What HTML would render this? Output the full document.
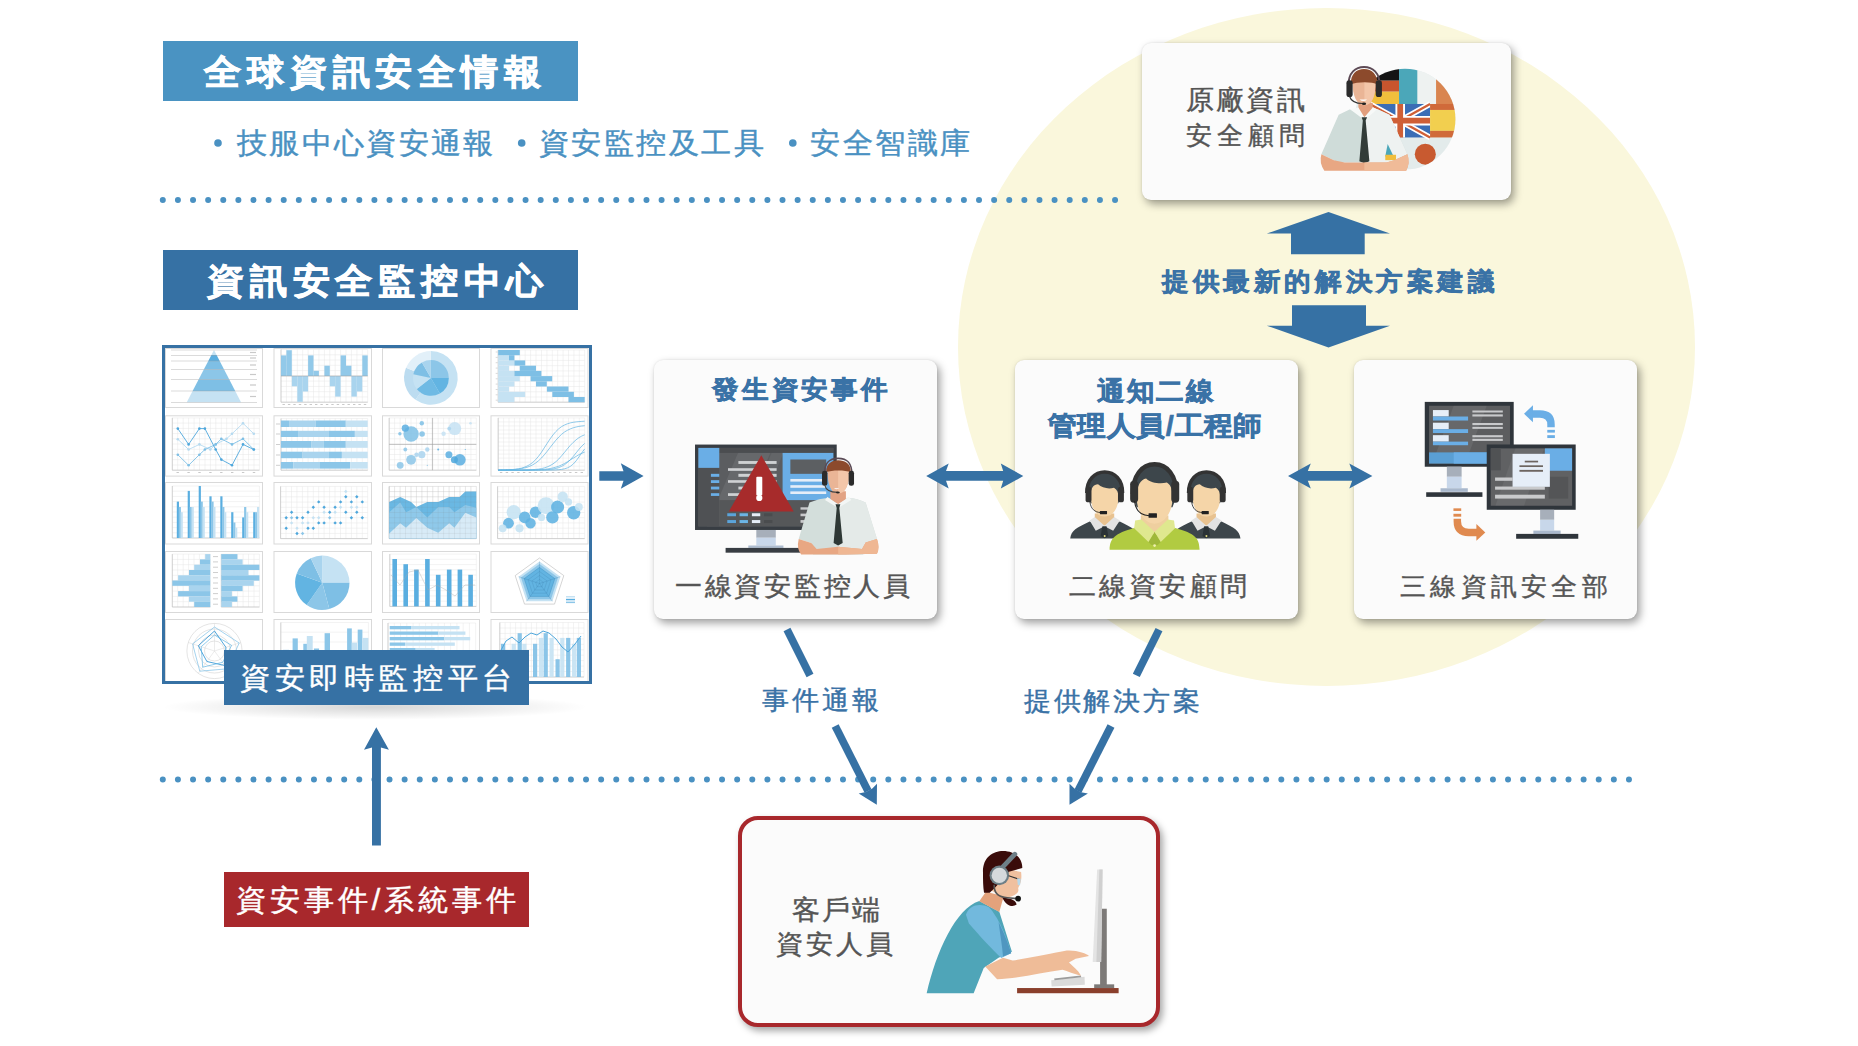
<!DOCTYPE html>
<html lang="zh-Hant"><head><meta charset="utf-8">
<style>
html,body{margin:0;padding:0;background:#fff;}
#root{position:relative;width:1858px;height:1046px;overflow:hidden;background:#fff;font-family:"Liberation Sans",sans-serif;}
.abs{position:absolute;}
.tx{position:absolute;white-space:nowrap;line-height:1;font-family:"Liberation Sans",sans-serif;z-index:5;-webkit-text-stroke:0.4px currentColor;}
.tx[style*="font-weight:700"]{-webkit-text-stroke:0.6px currentColor;}
#t1,#t3{-webkit-text-stroke:0.75px currentColor !important;}
.card{position:absolute;background:#fbfbfb;border-radius:9px;box-shadow:3px 4px 8px rgba(0,0,0,.38),0 0 2px rgba(0,0,0,.10);}
svg{position:absolute;left:0;top:0;overflow:visible;}
</style></head><body><div id="root">
<div class="abs" style="left:958px;top:8px;width:737px;height:677.5px;border-radius:50%;background:#faf7dc;"></div>
<div class="abs" style="left:163px;top:41px;width:415px;height:60px;background:#4a93c2;"></div>
<div class="abs" style="left:163px;top:250px;width:415px;height:60px;background:#3671a4;"></div>
<svg width="1858" height="1046" style="z-index:1">
<line x1="162.8" y1="200" x2="1116" y2="200" stroke="#4a91c2" stroke-width="6" stroke-linecap="round" stroke-dasharray="0 15.115"/>
<line x1="162.8" y1="779.5" x2="1630" y2="779.5" stroke="#4a91c2" stroke-width="6" stroke-linecap="round" stroke-dasharray="0 15.115"/>
<circle cx="218" cy="143" r="3.8" fill="#4a91c2"/>
<circle cx="521.7" cy="143" r="3.8" fill="#4a91c2"/>
<circle cx="792.8" cy="143" r="3.8" fill="#4a91c2"/>
</svg>
<div class="card" style="left:1142px;top:43px;width:369px;height:157px;z-index:2"></div>
<div class="card" style="left:654px;top:360px;width:283px;height:259px;z-index:2"></div>
<div class="card" style="left:1015px;top:360px;width:283px;height:259px;z-index:2"></div>
<div class="card" style="left:1354px;top:360px;width:283px;height:259px;z-index:2"></div>
<div class="abs" style="left:738px;top:816px;width:414px;height:203px;border:4.5px solid #a8282c;border-radius:20px;background:#fbfbfb;box-shadow:3px 4px 7px rgba(0,0,0,.35);z-index:2"></div>
<div class="abs" style="left:160px;top:694px;width:430px;height:26px;border-radius:50%;background:radial-gradient(ellipse at center, rgba(0,0,0,.16), rgba(0,0,0,0) 70%);"></div>
<div class="abs" style="left:162px;top:345px;width:424px;height:333px;border:3px solid #3671a4;background:#fff;z-index:1"></div>
<svg width="1858" height="1046" style="position:absolute;left:0;top:0;z-index:1"><defs><clipPath id="dclip"><rect x="165" y="348" width="424" height="333"/></clipPath></defs><g clip-path="url(#dclip)"><rect x="165.5" y="348.5" width="97.0" height="59.0" fill="#fff" stroke="#d9d9d9" stroke-width="1"/><rect x="274.0" y="348.5" width="97.5" height="59.0" fill="#fff" stroke="#d9d9d9" stroke-width="1"/><rect x="382.5" y="348.5" width="97.0" height="59.0" fill="#fff" stroke="#d9d9d9" stroke-width="1"/><rect x="491.0" y="348.5" width="97.0" height="59.0" fill="#fff" stroke="#d9d9d9" stroke-width="1"/><rect x="165.5" y="415.8" width="97.0" height="60.3" fill="#fff" stroke="#d9d9d9" stroke-width="1"/><rect x="274.0" y="415.8" width="97.5" height="60.3" fill="#fff" stroke="#d9d9d9" stroke-width="1"/><rect x="382.5" y="415.8" width="97.0" height="60.3" fill="#fff" stroke="#d9d9d9" stroke-width="1"/><rect x="491.0" y="415.8" width="97.0" height="60.3" fill="#fff" stroke="#d9d9d9" stroke-width="1"/><rect x="165.5" y="482.5" width="97.0" height="61.5" fill="#fff" stroke="#d9d9d9" stroke-width="1"/><rect x="274.0" y="482.5" width="97.5" height="61.5" fill="#fff" stroke="#d9d9d9" stroke-width="1"/><rect x="382.5" y="482.5" width="97.0" height="61.5" fill="#fff" stroke="#d9d9d9" stroke-width="1"/><rect x="491.0" y="482.5" width="97.0" height="61.5" fill="#fff" stroke="#d9d9d9" stroke-width="1"/><rect x="165.5" y="551.5" width="97.0" height="61.0" fill="#fff" stroke="#d9d9d9" stroke-width="1"/><rect x="274.0" y="551.5" width="97.5" height="61.0" fill="#fff" stroke="#d9d9d9" stroke-width="1"/><rect x="382.5" y="551.5" width="97.0" height="61.0" fill="#fff" stroke="#d9d9d9" stroke-width="1"/><rect x="491.0" y="551.5" width="97.0" height="61.0" fill="#fff" stroke="#d9d9d9" stroke-width="1"/><rect x="165.5" y="619.5" width="97.0" height="70.0" fill="#fff" stroke="#d9d9d9" stroke-width="1"/><rect x="274.0" y="619.5" width="97.5" height="70.0" fill="#fff" stroke="#d9d9d9" stroke-width="1"/><rect x="382.5" y="619.5" width="97.0" height="70.0" fill="#fff" stroke="#d9d9d9" stroke-width="1"/><rect x="491.0" y="619.5" width="97.0" height="70.0" fill="#fff" stroke="#d9d9d9" stroke-width="1"/><polygon points="214.0,350 214.0,350 216.6,355 211.4,355" fill="#c5e2f3"/><polygon points="211.4,355 216.6,355 219.7,361 208.3,361" fill="#5aaee0"/><polygon points="208.3,361 219.7,361 224.1,369.5 203.8,369.5" fill="#7ebfe5"/><polygon points="203.8,369.5 224.1,369.5 229.3,379.5 198.6,379.5" fill="#8cc6e8"/><polygon points="198.6,379.5 229.3,379.5 235.2,391 192.6,391" fill="#7ebfe5"/><polygon points="192.6,391 235.2,391 241.0,402.2 186.8,402.2" fill="#c5e2f3"/><path d="M171,350H257M171,355.5H257M171,361H257M171,369.5H257M171,379.5H257M171,391H257M171,402.5H257" stroke="#9a9a9a" stroke-width="0.45" fill="none" opacity="0.8"/><rect x="250.0" y="351.9" width="6.0" height="1.2" fill="#c9c9c9" /><rect x="250.0" y="357.4" width="6.0" height="1.2" fill="#c9c9c9" /><rect x="250.0" y="364.4" width="6.0" height="1.2" fill="#c9c9c9" /><rect x="250.0" y="373.9" width="6.0" height="1.2" fill="#c9c9c9" /><rect x="250.0" y="384.4" width="6.0" height="1.2" fill="#c9c9c9" /><rect x="250.0" y="395.9" width="6.0" height="1.2" fill="#c9c9c9" /><path d="M281.0,349.5V402.2M286.4,349.5V402.2M291.8,349.5V402.2M297.3,349.5V402.2M302.7,349.5V402.2M308.1,349.5V402.2M313.5,349.5V402.2M318.9,349.5V402.2M324.4,349.5V402.2M329.8,349.5V402.2M335.2,349.5V402.2M340.6,349.5V402.2M346.0,349.5V402.2M351.4,349.5V402.2M356.9,349.5V402.2M362.3,349.5V402.2M367.7,349.5V402.2M281.0,349.5H367.7M281.0,354.8H367.7M281.0,360.0H367.7M281.0,365.3H367.7M281.0,370.6H367.7M281.0,375.9H367.7M281.0,381.1H367.7M281.0,386.4H367.7M281.0,391.7H367.7M281.0,396.9H367.7M281.0,402.2H367.7" stroke="#e6e6e6" stroke-width="0.5" fill="none"/><path d="M281.0,349.5V402.2H367.7" stroke="#b9b9b9" stroke-width="0.6" fill="none"/><rect x="281.0" y="355.4" width="5.4" height="20.6" fill="#8cc6e8" opacity="0.95"/><rect x="286.4" y="350.2" width="5.4" height="25.8" fill="#8cc6e8" opacity="0.95"/><rect x="291.8" y="376.0" width="5.4" height="10.3" fill="#a9d4ee" /><rect x="297.3" y="376.0" width="5.4" height="25.8" fill="#a9d4ee" /><rect x="302.7" y="376.0" width="5.4" height="15.5" fill="#a9d4ee" /><rect x="308.1" y="355.4" width="5.4" height="20.6" fill="#8cc6e8" opacity="0.95"/><rect x="313.5" y="370.8" width="5.4" height="5.2" fill="#8cc6e8" opacity="0.95"/><rect x="324.4" y="365.7" width="5.4" height="10.3" fill="#8cc6e8" opacity="0.95"/><rect x="329.8" y="376.0" width="5.4" height="10.3" fill="#a9d4ee" /><rect x="335.2" y="376.0" width="5.4" height="20.6" fill="#a9d4ee" /><rect x="340.6" y="355.4" width="5.4" height="20.6" fill="#8cc6e8" opacity="0.95"/><rect x="346.0" y="365.7" width="5.4" height="10.3" fill="#8cc6e8" opacity="0.95"/><rect x="351.4" y="376.0" width="5.4" height="20.6" fill="#a9d4ee" /><rect x="356.9" y="376.0" width="5.4" height="15.5" fill="#a9d4ee" /><rect x="362.3" y="355.4" width="5.4" height="20.6" fill="#8cc6e8" opacity="0.95"/><path d="M281,376H367.7" stroke="#999" stroke-width="0.5"/><path d="M282.5,404.5h2.4M287.9,404.5h2.4M293.3,404.5h2.4M298.8,404.5h2.4M304.2,404.5h2.4M309.6,404.5h2.4M315.0,404.5h2.4M320.4,404.5h2.4M325.9,404.5h2.4M331.3,404.5h2.4M336.7,404.5h2.4M342.1,404.5h2.4M347.5,404.5h2.4M353.0,404.5h2.4M358.4,404.5h2.4M363.8,404.5h2.4" stroke="#bbb" stroke-width="0.8"/><path d="M430.9,377.9L430.90,351.10A26.8,26.8 0 1 1 415.53,399.85Z" fill="#c5e2f3"/><path d="M430.9,377.9L415.53,399.85A26.8,26.8 0 0 1 406.05,367.86Z" fill="#bcdcf0"/><path d="M430.9,377.9L406.05,367.86A26.8,26.8 0 0 1 430.90,351.10Z" fill="#e2f0f9"/><path d="M430.9,377.9L430.90,360.00A17.9,17.9 0 0 1 448.80,377.90Z" fill="#8cc6e8"/><path d="M430.9,377.9L448.80,377.90A17.9,17.9 0 0 1 439.85,393.40Z" fill="#62b4e2"/><path d="M430.9,377.9L439.85,393.40A17.9,17.9 0 0 1 416.79,388.92Z" fill="#6fbae4"/><path d="M430.9,377.9L416.79,388.92A17.9,17.9 0 0 1 413.39,374.18Z" fill="#c5e2f3"/><path d="M430.9,377.9L413.39,374.18A17.9,17.9 0 0 1 421.95,362.40Z" fill="#7ebfe5"/><path d="M430.9,377.9L421.95,362.40A17.9,17.9 0 0 1 430.90,360.00Z" fill="#a9d4ee"/><path d="M498.2,350.0V402.2M503.6,350.0V402.2M509.0,350.0V402.2M514.4,350.0V402.2M519.8,350.0V402.2M525.2,350.0V402.2M530.6,350.0V402.2M536.0,350.0V402.2M541.5,350.0V402.2M546.9,350.0V402.2M552.3,350.0V402.2M557.7,350.0V402.2M563.1,350.0V402.2M568.5,350.0V402.2M573.9,350.0V402.2M579.3,350.0V402.2M584.7,350.0V402.2M498.2,350.0H584.7M498.2,355.2H584.7M498.2,360.4H584.7M498.2,365.7H584.7M498.2,370.9H584.7M498.2,376.1H584.7M498.2,381.3H584.7M498.2,386.5H584.7M498.2,391.8H584.7M498.2,397.0H584.7M498.2,402.2H584.7" stroke="#e6e6e6" stroke-width="0.5" fill="none"/><path d="M498.2,350.0V402.2H584.7" stroke="#b9b9b9" stroke-width="0.6" fill="none"/><rect x="498.2" y="355.2" width="10.8" height="5.2" fill="#c5e2f3" /><rect x="498.2" y="360.4" width="16.2" height="5.2" fill="#c5e2f3" /><rect x="498.2" y="365.7" width="10.8" height="5.2" fill="#c5e2f3" /><rect x="498.2" y="370.9" width="16.2" height="5.2" fill="#c5e2f3" /><rect x="498.2" y="376.1" width="21.6" height="5.2" fill="#c5e2f3" /><rect x="498.2" y="381.3" width="16.2" height="5.2" fill="#c5e2f3" /><rect x="498.2" y="386.5" width="10.8" height="5.2" fill="#c5e2f3" /><rect x="498.2" y="391.8" width="27.0" height="5.2" fill="#c5e2f3" /><rect x="498.2" y="397.0" width="16.2" height="5.2" fill="#c5e2f3" /><rect x="498.2" y="350.0" width="21.6" height="5.2" fill="#7ebfe5" /><rect x="509.0" y="355.2" width="5.4" height="5.2" fill="#7ebfe5" /><rect x="514.4" y="360.4" width="10.8" height="5.2" fill="#7ebfe5" /><rect x="519.8" y="365.7" width="16.2" height="5.2" fill="#7ebfe5" /><rect x="514.4" y="370.9" width="27.0" height="5.2" fill="#7ebfe5" /><rect x="530.6" y="376.1" width="21.6" height="5.2" fill="#7ebfe5" /><rect x="536.0" y="381.3" width="10.8" height="5.2" fill="#7ebfe5" /><rect x="546.9" y="386.5" width="21.6" height="5.2" fill="#7ebfe5" /><rect x="552.3" y="391.8" width="21.6" height="5.2" fill="#7ebfe5" /><rect x="568.5" y="397.0" width="16.2" height="5.2" fill="#7ebfe5" /><path d="M495.7,352.0h2M495.7,357.4h2M495.7,362.7h2M495.7,368.1h2M495.7,373.4h2M495.7,378.8h2M495.7,384.1h2M495.7,389.5h2M495.7,394.8h2M495.7,400.2h2" stroke="#c8c8c8" stroke-width="0.7"/><path d="M172.3,417.9V470.2M177.7,417.9V470.2M183.2,417.9V470.2M188.6,417.9V470.2M194.1,417.9V470.2M199.5,417.9V470.2M205.0,417.9V470.2M210.4,417.9V470.2M215.8,417.9V470.2M221.3,417.9V470.2M226.7,417.9V470.2M232.2,417.9V470.2M237.6,417.9V470.2M243.1,417.9V470.2M248.5,417.9V470.2M254.0,417.9V470.2M259.4,417.9V470.2M172.3,417.9H259.4M172.3,423.1H259.4M172.3,428.4H259.4M172.3,433.6H259.4M172.3,438.8H259.4M172.3,444.0H259.4M172.3,449.3H259.4M172.3,454.5H259.4M172.3,459.7H259.4M172.3,465.0H259.4M172.3,470.2H259.4" stroke="#e6e6e6" stroke-width="0.5" fill="none"/><path d="M172.3,417.9V470.2H259.4" stroke="#b9b9b9" stroke-width="0.6" fill="none"/><polyline points="177.8,439.2 188.6,449.5 199.4,444.4 210.3,449.5 215.7,444.4 226.5,438.8 232.0,433.8 243.0,423.3 253.8,433.8" fill="none" stroke="#b5daf0" stroke-width="0.9"/><circle cx="177.8" cy="439.2" r="1.3" fill="#b5daf0"/><circle cx="188.6" cy="449.5" r="1.3" fill="#b5daf0"/><circle cx="199.4" cy="444.4" r="1.3" fill="#b5daf0"/><circle cx="210.3" cy="449.5" r="1.3" fill="#b5daf0"/><circle cx="215.7" cy="444.4" r="1.3" fill="#b5daf0"/><circle cx="226.5" cy="438.8" r="1.3" fill="#b5daf0"/><circle cx="232.0" cy="433.8" r="1.3" fill="#b5daf0"/><circle cx="243.0" cy="423.3" r="1.3" fill="#b5daf0"/><circle cx="253.8" cy="433.8" r="1.3" fill="#b5daf0"/><polyline points="177.8,454.7 188.6,465.3 199.4,454.7 204.9,449.5 215.7,444.4 221.3,438.8 232.0,444.4 243.0,438.8 253.8,449.5" fill="none" stroke="#7ebfe5" stroke-width="0.9"/><circle cx="177.8" cy="454.7" r="1.3" fill="#7ebfe5"/><circle cx="188.6" cy="465.3" r="1.3" fill="#7ebfe5"/><circle cx="199.4" cy="454.7" r="1.3" fill="#7ebfe5"/><circle cx="204.9" cy="449.5" r="1.3" fill="#7ebfe5"/><circle cx="215.7" cy="444.4" r="1.3" fill="#7ebfe5"/><circle cx="221.3" cy="438.8" r="1.3" fill="#7ebfe5"/><circle cx="232.0" cy="444.4" r="1.3" fill="#7ebfe5"/><circle cx="243.0" cy="438.8" r="1.3" fill="#7ebfe5"/><circle cx="253.8" cy="449.5" r="1.3" fill="#7ebfe5"/><polyline points="177.8,428.6 188.6,444.4 199.4,428.6 204.9,428.6 215.7,449.5 221.3,459.6 232.0,465.3 243.0,444.4 253.8,449.5" fill="none" stroke="#4ea7dc" stroke-width="0.9"/><circle cx="177.8" cy="428.6" r="1.3" fill="#4ea7dc"/><circle cx="188.6" cy="444.4" r="1.3" fill="#4ea7dc"/><circle cx="199.4" cy="428.6" r="1.3" fill="#4ea7dc"/><circle cx="204.9" cy="428.6" r="1.3" fill="#4ea7dc"/><circle cx="215.7" cy="449.5" r="1.3" fill="#4ea7dc"/><circle cx="221.3" cy="459.6" r="1.3" fill="#4ea7dc"/><circle cx="232.0" cy="465.3" r="1.3" fill="#4ea7dc"/><circle cx="243.0" cy="444.4" r="1.3" fill="#4ea7dc"/><circle cx="253.8" cy="449.5" r="1.3" fill="#4ea7dc"/><path d="M176.5,472.5h2.4M187.4,472.5h2.4M198.3,472.5h2.4M209.2,472.5h2.4M220.1,472.5h2.4M231.0,472.5h2.4M241.9,472.5h2.4M252.8,472.5h2.4" stroke="#bbb" stroke-width="0.8"/><path d="M281.0,418.5V470.2M286.4,418.5V470.2M291.8,418.5V470.2M297.3,418.5V470.2M302.7,418.5V470.2M308.1,418.5V470.2M313.5,418.5V470.2M318.9,418.5V470.2M324.4,418.5V470.2M329.8,418.5V470.2M335.2,418.5V470.2M340.6,418.5V470.2M346.0,418.5V470.2M351.4,418.5V470.2M356.9,418.5V470.2M362.3,418.5V470.2M367.7,418.5V470.2M281.0,418.5H367.7M281.0,470.2H367.7" stroke="#e6e6e6" stroke-width="0.5" fill="none"/><path d="M281.0,418.5V470.2H367.7" stroke="#b9b9b9" stroke-width="0.6" fill="none"/><rect x="280.9" y="420.5" width="8.8" height="6.5" fill="#8cc6e8" /><rect x="289.7" y="420.5" width="25.8" height="6.5" fill="#a9d4ee" /><rect x="315.5" y="420.5" width="30.3" height="6.5" fill="#8cc6e8" /><rect x="345.8" y="420.5" width="21.9" height="6.5" fill="#c5e2f3" /><rect x="280.9" y="430.8" width="17.8" height="6.2" fill="#8cc6e8" /><rect x="298.7" y="430.8" width="29.7" height="6.2" fill="#a9d4ee" /><rect x="328.4" y="430.8" width="26.5" height="6.2" fill="#8cc6e8" /><rect x="354.8" y="430.8" width="12.9" height="6.2" fill="#c5e2f3" /><rect x="280.9" y="441.0" width="30.7" height="6.8" fill="#8cc6e8" /><rect x="311.6" y="441.0" width="12.3" height="6.8" fill="#a9d4ee" /><rect x="323.9" y="441.0" width="21.9" height="6.8" fill="#8cc6e8" /><rect x="345.8" y="441.0" width="21.9" height="6.8" fill="#c5e2f3" /><rect x="280.9" y="451.7" width="21.7" height="6.5" fill="#8cc6e8" /><rect x="302.6" y="451.7" width="25.8" height="6.5" fill="#a9d4ee" /><rect x="328.4" y="451.7" width="13.5" height="6.5" fill="#8cc6e8" /><rect x="341.9" y="451.7" width="25.8" height="6.5" fill="#c5e2f3" /><rect x="280.9" y="462.0" width="12.6" height="6.6" fill="#8cc6e8" /><rect x="293.5" y="462.0" width="26.5" height="6.6" fill="#a9d4ee" /><rect x="320.0" y="462.0" width="30.3" height="6.6" fill="#8cc6e8" /><rect x="350.3" y="462.0" width="17.4" height="6.6" fill="#c5e2f3" /><rect x="276.0" y="423.5" width="4.0" height="1.0" fill="#cfcfcf" /><rect x="276.0" y="433.5" width="4.0" height="1.0" fill="#cfcfcf" /><rect x="276.0" y="444.0" width="4.0" height="1.0" fill="#cfcfcf" /><rect x="276.0" y="454.5" width="4.0" height="1.0" fill="#cfcfcf" /><rect x="276.0" y="464.8" width="4.0" height="1.0" fill="#cfcfcf" /><path d="M389.2,417.9V470.2M394.6,417.9V470.2M400.1,417.9V470.2M405.5,417.9V470.2M411.0,417.9V470.2M416.4,417.9V470.2M421.9,417.9V470.2M427.3,417.9V470.2M432.8,417.9V470.2M438.2,417.9V470.2M443.6,417.9V470.2M449.1,417.9V470.2M454.5,417.9V470.2M460.0,417.9V470.2M465.4,417.9V470.2M470.9,417.9V470.2M476.3,417.9V470.2M389.2,417.9H476.3M389.2,423.1H476.3M389.2,428.4H476.3M389.2,433.6H476.3M389.2,438.8H476.3M389.2,444.0H476.3M389.2,449.3H476.3M389.2,454.5H476.3M389.2,459.7H476.3M389.2,465.0H476.3M389.2,470.2H476.3" stroke="#e6e6e6" stroke-width="0.5" fill="none"/><path d="M389.2,417.9V470.2H476.3" stroke="#b9b9b9" stroke-width="0.6" fill="none"/><path d="M432.4,417.9V470.2M389.2,444.4H476.3" stroke="#9c9c9c" stroke-width="0.6"/><circle cx="411.1" cy="434.0" r="7.7" fill="#7ebfe5" opacity="0.85"/><circle cx="405.3" cy="428.2" r="3.6" fill="#5aaee0" opacity="0.85"/><circle cx="399.9" cy="433.8" r="1.7" fill="#7ebfe5" opacity="0.85"/><circle cx="421.8" cy="423.3" r="2.2" fill="#7ebfe5" opacity="0.85"/><circle cx="422.1" cy="434.0" r="2.8" fill="#7ebfe5" opacity="0.85"/><circle cx="454.7" cy="428.6" r="6.5" fill="#c5e2f3" opacity="0.85"/><circle cx="449.2" cy="428.6" r="1.9" fill="#a9d4ee" opacity="0.85"/><circle cx="443.6" cy="433.8" r="2.2" fill="#c5e2f3" opacity="0.85"/><circle cx="470.5" cy="423.3" r="1.3" fill="#c5e2f3" opacity="0.85"/><circle cx="405.3" cy="449.5" r="1.9" fill="#8cc6e8" opacity="0.85"/><circle cx="427.3" cy="449.5" r="2.2" fill="#a9d4ee" opacity="0.85"/><circle cx="421.8" cy="454.7" r="3.6" fill="#a9d4ee" opacity="0.85"/><circle cx="416.5" cy="454.7" r="2.2" fill="#a9d4ee" opacity="0.85"/><circle cx="411.1" cy="459.8" r="4.9" fill="#8cc6e8" opacity="0.85"/><circle cx="400.2" cy="465.3" r="3.4" fill="#8cc6e8" opacity="0.85"/><circle cx="438.2" cy="449.5" r="1.0" fill="#5aaee0" opacity="0.85"/><circle cx="465.3" cy="449.5" r="0.6" fill="#5aaee0" opacity="0.85"/><circle cx="448.9" cy="454.7" r="3.5" fill="#5aaee0" opacity="0.85"/><circle cx="459.9" cy="459.8" r="5.8" fill="#5aaee0" opacity="0.85"/><circle cx="454.4" cy="459.8" r="3.5" fill="#4ea7dc" opacity="0.85"/><circle cx="427.3" cy="465.3" r="0.6" fill="#7ebfe5" opacity="0.85"/><path d="M498.2,417.9V470.2M503.6,417.9V470.2M509.0,417.9V470.2M514.4,417.9V470.2M519.8,417.9V470.2M525.2,417.9V470.2M530.6,417.9V470.2M536.0,417.9V470.2M541.5,417.9V470.2M546.9,417.9V470.2M552.3,417.9V470.2M557.7,417.9V470.2M563.1,417.9V470.2M568.5,417.9V470.2M573.9,417.9V470.2M579.3,417.9V470.2M584.7,417.9V470.2M498.2,417.9H584.7M498.2,421.9H584.7M498.2,425.9H584.7M498.2,430.0H584.7M498.2,434.0H584.7M498.2,438.0H584.7M498.2,442.0H584.7M498.2,446.1H584.7M498.2,450.1H584.7M498.2,454.1H584.7M498.2,458.1H584.7M498.2,462.2H584.7M498.2,466.2H584.7M498.2,470.2H584.7" stroke="#e6e6e6" stroke-width="0.5" fill="none"/><path d="M498.2,417.9V470.2H584.7" stroke="#b9b9b9" stroke-width="0.6" fill="none"/><polyline points="498.2,470.1 501.1,470.0 504.0,470.0 506.9,469.9 509.7,469.7 512.6,469.5 515.5,469.2 518.4,468.8 521.3,468.2 524.1,467.3 527.0,466.1 529.9,464.5 532.8,462.4 535.7,459.6 538.6,456.2 541.5,452.2 544.3,447.8 547.2,443.3 550.1,438.9 553.0,434.9 555.9,431.5 558.8,428.7 561.6,426.6 564.5,425.0 567.4,423.8 570.3,422.9 573.2,422.3 576.1,421.9 578.9,421.6 581.8,421.4 584.7,421.2" fill="none" stroke="#62b4e2" stroke-width="0.7"/><polyline points="498.2,470.1 501.1,470.0 504.0,470.0 506.9,469.9 509.7,469.8 512.6,469.6 515.5,469.4 518.4,469.1 521.3,468.6 524.1,468.0 527.0,467.3 529.9,466.2 532.8,464.8 535.7,463.0 538.6,460.7 541.5,458.0 544.3,454.8 547.2,451.3 550.1,447.5 553.0,443.8 555.9,440.2 558.8,437.0 561.6,434.3 564.5,432.0 567.4,430.3 570.3,428.9 573.2,427.8 576.1,427.0 578.9,426.4 581.8,426.0 584.7,425.7" fill="none" stroke="#62b4e2" stroke-width="0.7"/><polyline points="498.2,470.2 501.1,470.2 504.0,470.2 506.9,470.2 509.7,470.2 512.6,470.2 515.5,470.1 518.4,470.1 521.3,470.1 524.1,470.0 527.0,469.9 529.9,469.8 532.8,469.6 535.7,469.4 538.6,469.1 541.5,468.6 544.3,467.9 547.2,466.9 550.1,465.6 553.0,463.9 555.9,461.7 558.8,459.0 561.6,455.8 564.5,452.4 567.4,448.8 570.3,445.4 573.2,442.4 576.1,439.8 578.9,437.7 581.8,436.0 584.7,434.8" fill="none" stroke="#62b4e2" stroke-width="0.7"/><polyline points="498.2,470.2 501.1,470.2 504.0,470.2 506.9,470.2 509.7,470.2 512.6,470.2 515.5,470.2 518.4,470.2 521.3,470.2 524.1,470.2 527.0,470.2 529.9,470.2 532.8,470.1 535.7,470.1 538.6,470.0 541.5,470.0 544.3,469.9 547.2,469.7 550.1,469.4 553.0,469.0 555.9,468.4 558.8,467.6 561.6,466.4 564.5,464.7 567.4,462.5 570.3,459.7 573.2,456.5 576.1,452.9 578.9,449.4 581.8,446.1 584.7,443.4" fill="none" stroke="#62b4e2" stroke-width="0.7"/><polyline points="498.2,470.2 501.1,470.2 504.0,470.2 506.9,470.2 509.7,470.2 512.6,470.2 515.5,470.2 518.4,470.2 521.3,470.2 524.1,470.2 527.0,470.2 529.9,470.2 532.8,470.2 535.7,470.2 538.6,470.2 541.5,470.2 544.3,470.2 547.2,470.1 550.1,470.1 553.0,470.0 555.9,469.9 558.8,469.7 561.6,469.4 564.5,468.8 567.4,467.9 570.3,466.4 573.2,464.1 576.1,460.9 578.9,457.0 581.8,452.8 584.7,448.9" fill="none" stroke="#62b4e2" stroke-width="0.7"/><polyline points="498.2,470.2 501.1,470.2 504.0,470.2 506.9,470.2 509.7,470.2 512.6,470.2 515.5,470.2 518.4,470.2 521.3,470.1 524.1,470.1 527.0,470.1 529.9,470.0 532.8,470.0 535.7,469.9 538.6,469.7 541.5,469.5 544.3,469.3 547.2,469.0 550.1,468.5 553.0,467.9 555.9,467.1 558.8,466.2 561.6,464.9 564.5,463.5 567.4,461.8 570.3,460.0 573.2,458.2 576.1,456.4 578.9,454.7 581.8,453.3 584.7,452.1" fill="none" stroke="#62b4e2" stroke-width="0.7"/><path d="M499.9,472.5h2.4M505.7,472.5h2.4M511.4,472.5h2.4M517.2,472.5h2.4M522.9,472.5h2.4M528.7,472.5h2.4M534.5,472.5h2.4M540.2,472.5h2.4M546.0,472.5h2.4M551.8,472.5h2.4M557.5,472.5h2.4M563.3,472.5h2.4M569.1,472.5h2.4M574.9,472.5h2.4M580.6,472.5h2.4" stroke="#bbb" stroke-width="0.8"/><path d="M172.3,486.0V538.0M259.4,486.0V538.0M172.3,486.0H259.4M172.3,491.2H259.4M172.3,496.4H259.4M172.3,501.6H259.4M172.3,506.8H259.4M172.3,512.0H259.4M172.3,517.2H259.4M172.3,522.4H259.4M172.3,527.6H259.4M172.3,532.8H259.4M172.3,538.0H259.4" stroke="#e6e6e6" stroke-width="0.5" fill="none"/><path d="M172.3,486.0V538.0H259.4" stroke="#b9b9b9" stroke-width="0.6" fill="none"/><rect x="176.8" y="501.6" width="2.2" height="36.4" fill="#5aaee0" /><rect x="178.7" y="507.0" width="2.2" height="31.0" fill="#8cc6e8" /><rect x="180.6" y="512.2" width="2.2" height="25.8" fill="#c5e2f3" /><rect x="187.7" y="490.9" width="2.2" height="47.1" fill="#5aaee0" /><rect x="189.7" y="507.0" width="2.2" height="31.0" fill="#8cc6e8" /><rect x="191.6" y="507.0" width="2.2" height="31.0" fill="#c5e2f3" /><rect x="198.7" y="486.0" width="2.2" height="52.0" fill="#5aaee0" /><rect x="200.6" y="501.6" width="2.2" height="36.4" fill="#8cc6e8" /><rect x="202.6" y="507.0" width="2.2" height="31.0" fill="#c5e2f3" /><rect x="209.4" y="496.3" width="2.2" height="41.7" fill="#5aaee0" /><rect x="211.4" y="501.6" width="2.2" height="36.4" fill="#8cc6e8" /><rect x="213.3" y="507.0" width="2.2" height="31.0" fill="#c5e2f3" /><rect x="220.3" y="496.3" width="2.2" height="41.7" fill="#5aaee0" /><rect x="222.2" y="507.0" width="2.2" height="31.0" fill="#8cc6e8" /><rect x="224.1" y="512.2" width="2.2" height="25.8" fill="#c5e2f3" /><rect x="231.2" y="512.2" width="2.2" height="25.8" fill="#5aaee0" /><rect x="233.2" y="522.5" width="2.2" height="15.5" fill="#8cc6e8" /><rect x="235.1" y="527.7" width="2.2" height="10.3" fill="#c5e2f3" /><rect x="242.2" y="517.4" width="2.2" height="20.6" fill="#5aaee0" /><rect x="244.1" y="507.0" width="2.2" height="31.0" fill="#8cc6e8" /><rect x="246.1" y="512.2" width="2.2" height="25.8" fill="#c5e2f3" /><rect x="253.2" y="512.2" width="2.2" height="25.8" fill="#5aaee0" /><rect x="255.1" y="512.2" width="2.2" height="25.8" fill="#8cc6e8" /><rect x="257.0" y="507.0" width="2.2" height="31.0" fill="#c5e2f3" /><path d="M280.6,486.4V538.6M286.0,486.4V538.6M291.5,486.4V538.6M296.9,486.4V538.6M302.4,486.4V538.6M307.8,486.4V538.6M313.3,486.4V538.6M318.7,486.4V538.6M324.1,486.4V538.6M329.6,486.4V538.6M335.0,486.4V538.6M340.5,486.4V538.6M345.9,486.4V538.6M351.4,486.4V538.6M356.8,486.4V538.6M362.3,486.4V538.6M367.7,486.4V538.6M280.6,486.4H367.7M280.6,491.6H367.7M280.6,496.8H367.7M280.6,502.1H367.7M280.6,507.3H367.7M280.6,512.5H367.7M280.6,517.7H367.7M280.6,522.9H367.7M280.6,528.2H367.7M280.6,533.4H367.7M280.6,538.6H367.7" stroke="#e6e6e6" stroke-width="0.5" fill="none"/><path d="M280.6,486.4V538.6H367.7" stroke="#b9b9b9" stroke-width="0.6" fill="none"/><path d="M286.2,516.0l1.7,1.7l-1.7,1.7l-1.7,-1.7z" fill="#4ea7dc"/><path d="M286.2,526.6l1.7,1.7l-1.7,1.7l-1.7,-1.7z" fill="#4ea7dc"/><path d="M291.6,510.5l1.7,1.7l-1.7,1.7l-1.7,-1.7z" fill="#4ea7dc"/><path d="M291.6,516.0l1.7,1.7l-1.7,1.7l-1.7,-1.7z" fill="#8cc6e8"/><path d="M291.6,521.2l1.7,1.7l-1.7,1.7l-1.7,-1.7z" fill="#c5e2f3"/><path d="M297.0,516.0l1.7,1.7l-1.7,1.7l-1.7,-1.7z" fill="#4ea7dc"/><path d="M297.0,526.6l1.7,1.7l-1.7,1.7l-1.7,-1.7z" fill="#c5e2f3"/><path d="M297.0,531.8l1.7,1.7l-1.7,1.7l-1.7,-1.7z" fill="#4ea7dc"/><path d="M302.6,516.0l1.7,1.7l-1.7,1.7l-1.7,-1.7z" fill="#4ea7dc"/><path d="M302.6,521.2l1.7,1.7l-1.7,1.7l-1.7,-1.7z" fill="#c5e2f3"/><path d="M302.6,531.8l1.7,1.7l-1.7,1.7l-1.7,-1.7z" fill="#8cc6e8"/><path d="M308.0,510.5l1.7,1.7l-1.7,1.7l-1.7,-1.7z" fill="#4ea7dc"/><path d="M308.0,521.2l1.7,1.7l-1.7,1.7l-1.7,-1.7z" fill="#c5e2f3"/><path d="M308.0,526.6l1.7,1.7l-1.7,1.7l-1.7,-1.7z" fill="#4ea7dc"/><path d="M313.3,505.6l1.7,1.7l-1.7,1.7l-1.7,-1.7z" fill="#4ea7dc"/><path d="M313.3,516.0l1.7,1.7l-1.7,1.7l-1.7,-1.7z" fill="#c5e2f3"/><path d="M313.3,526.6l1.7,1.7l-1.7,1.7l-1.7,-1.7z" fill="#4ea7dc"/><path d="M318.7,500.2l1.7,1.7l-1.7,1.7l-1.7,-1.7z" fill="#4ea7dc"/><path d="M318.7,516.0l1.7,1.7l-1.7,1.7l-1.7,-1.7z" fill="#c5e2f3"/><path d="M318.7,521.2l1.7,1.7l-1.7,1.7l-1.7,-1.7z" fill="#4ea7dc"/><path d="M324.1,505.6l1.7,1.7l-1.7,1.7l-1.7,-1.7z" fill="#4ea7dc"/><path d="M324.1,510.5l1.7,1.7l-1.7,1.7l-1.7,-1.7z" fill="#c5e2f3"/><path d="M324.1,521.2l1.7,1.7l-1.7,1.7l-1.7,-1.7z" fill="#4ea7dc"/><path d="M329.7,510.5l1.7,1.7l-1.7,1.7l-1.7,-1.7z" fill="#4ea7dc"/><path d="M329.7,516.0l1.7,1.7l-1.7,1.7l-1.7,-1.7z" fill="#8cc6e8"/><path d="M335.1,505.6l1.7,1.7l-1.7,1.7l-1.7,-1.7z" fill="#4ea7dc"/><path d="M335.1,510.5l1.7,1.7l-1.7,1.7l-1.7,-1.7z" fill="#c5e2f3"/><path d="M335.1,521.2l1.7,1.7l-1.7,1.7l-1.7,-1.7z" fill="#4ea7dc"/><path d="M340.6,500.2l1.7,1.7l-1.7,1.7l-1.7,-1.7z" fill="#4ea7dc"/><path d="M340.6,505.6l1.7,1.7l-1.7,1.7l-1.7,-1.7z" fill="#c5e2f3"/><path d="M340.6,521.2l1.7,1.7l-1.7,1.7l-1.7,-1.7z" fill="#4ea7dc"/><path d="M345.8,489.8l1.7,1.7l-1.7,1.7l-1.7,-1.7z" fill="#c5e2f3"/><path d="M345.8,495.0l1.7,1.7l-1.7,1.7l-1.7,-1.7z" fill="#4ea7dc"/><path d="M345.8,510.5l1.7,1.7l-1.7,1.7l-1.7,-1.7z" fill="#4ea7dc"/><path d="M351.4,500.2l1.7,1.7l-1.7,1.7l-1.7,-1.7z" fill="#4ea7dc"/><path d="M351.4,505.6l1.7,1.7l-1.7,1.7l-1.7,-1.7z" fill="#c5e2f3"/><path d="M351.4,516.0l1.7,1.7l-1.7,1.7l-1.7,-1.7z" fill="#4ea7dc"/><path d="M356.8,495.0l1.7,1.7l-1.7,1.7l-1.7,-1.7z" fill="#4ea7dc"/><path d="M356.8,505.6l1.7,1.7l-1.7,1.7l-1.7,-1.7z" fill="#c5e2f3"/><path d="M356.8,510.5l1.7,1.7l-1.7,1.7l-1.7,-1.7z" fill="#4ea7dc"/><path d="M362.3,500.2l1.7,1.7l-1.7,1.7l-1.7,-1.7z" fill="#4ea7dc"/><path d="M362.3,516.0l1.7,1.7l-1.7,1.7l-1.7,-1.7z" fill="#4ea7dc"/><path d="M389.2,486.4V538.6M394.6,486.4V538.6M400.1,486.4V538.6M405.5,486.4V538.6M411.0,486.4V538.6M416.4,486.4V538.6M421.9,486.4V538.6M427.3,486.4V538.6M432.8,486.4V538.6M438.2,486.4V538.6M443.6,486.4V538.6M449.1,486.4V538.6M454.5,486.4V538.6M460.0,486.4V538.6M465.4,486.4V538.6M470.9,486.4V538.6M476.3,486.4V538.6M389.2,486.4H476.3M389.2,491.6H476.3M389.2,496.8H476.3M389.2,502.1H476.3M389.2,507.3H476.3M389.2,512.5H476.3M389.2,517.7H476.3M389.2,522.9H476.3M389.2,528.2H476.3M389.2,533.4H476.3M389.2,538.6H476.3" stroke="#e6e6e6" stroke-width="0.5" fill="none"/><path d="M389.2,486.4V538.6H476.3" stroke="#b9b9b9" stroke-width="0.6" fill="none"/><polygon points="389.2,501.9 400.2,497.1 411.1,501.9 416.3,507.0 427.3,501.9 438.2,501.9 449.2,497.1 459.5,497.1 465.3,491.5 476.3,491.5 476.3,538.6 389.2,538.6" fill="#62b4e2" opacity="0.95"/><polygon points="389.2,512.2 400.2,502.5 406.0,512.2 416.3,507.0 427.3,517.4 438.2,507.0 449.2,507.0 454.4,512.2 465.3,505.1 476.3,507.7 476.3,538.6 389.2,538.6" fill="#93cbea" opacity="0.9"/><polygon points="389.2,533.5 400.2,523.2 406.0,527.7 416.3,518.0 427.3,527.7 438.2,532.8 449.2,523.2 454.4,527.7 465.3,512.8 476.3,517.4 476.3,538.6 389.2,538.6" fill="#dcedf8" opacity="0.95"/><path d="M389.2,486.4V538.6M394.6,486.4V538.6M400.1,486.4V538.6M405.5,486.4V538.6M411.0,486.4V538.6M416.4,486.4V538.6M421.9,486.4V538.6M427.3,486.4V538.6M432.8,486.4V538.6M438.2,486.4V538.6M443.6,486.4V538.6M449.1,486.4V538.6M454.5,486.4V538.6M460.0,486.4V538.6M465.4,486.4V538.6M470.9,486.4V538.6M476.3,486.4V538.6M389.2,486.4H476.3M389.2,491.6H476.3M389.2,496.8H476.3M389.2,502.1H476.3M389.2,507.3H476.3M389.2,512.5H476.3M389.2,517.7H476.3M389.2,522.9H476.3M389.2,528.2H476.3M389.2,533.4H476.3M389.2,538.6H476.3" stroke="rgba(120,120,120,0.18)" stroke-width="0.5" fill="none"/><path d="M497.6,486.4V538.6M503.0,486.4V538.6M508.5,486.4V538.6M513.9,486.4V538.6M519.4,486.4V538.6M524.8,486.4V538.6M530.3,486.4V538.6M535.7,486.4V538.6M541.2,486.4V538.6M546.6,486.4V538.6M552.0,486.4V538.6M557.5,486.4V538.6M562.9,486.4V538.6M568.4,486.4V538.6M573.8,486.4V538.6M579.3,486.4V538.6M584.7,486.4V538.6M497.6,486.4H584.7M497.6,491.6H584.7M497.6,496.8H584.7M497.6,502.1H584.7M497.6,507.3H584.7M497.6,512.5H584.7M497.6,517.7H584.7M497.6,522.9H584.7M497.6,528.2H584.7M497.6,533.4H584.7M497.6,538.6H584.7" stroke="#e6e6e6" stroke-width="0.5" fill="none"/><path d="M497.6,486.4V538.6H584.7" stroke="#b9b9b9" stroke-width="0.6" fill="none"/><circle cx="513.7" cy="512.2" r="7.1" fill="#c5e2f3" opacity="0.88"/><circle cx="524.7" cy="517.4" r="5.8" fill="#5fb2e1" opacity="0.88"/><circle cx="508.5" cy="523.2" r="5.4" fill="#5fb2e1" opacity="0.88"/><circle cx="502.7" cy="528.3" r="3.9" fill="#c5e2f3" opacity="0.88"/><circle cx="519.5" cy="528.3" r="4.1" fill="#c5e2f3" opacity="0.88"/><circle cx="530.5" cy="523.2" r="5.2" fill="#5fb2e1" opacity="0.88"/><circle cx="535.6" cy="512.2" r="5.8" fill="#5fb2e1" opacity="0.88"/><circle cx="541.5" cy="517.4" r="3.6" fill="#c5e2f3" opacity="0.88"/><circle cx="546.0" cy="505.7" r="8.4" fill="#c5e2f3" opacity="0.88"/><circle cx="552.4" cy="517.4" r="6.2" fill="#5fb2e1" opacity="0.88"/><circle cx="557.6" cy="507.0" r="6.5" fill="#5fb2e1" opacity="0.88"/><circle cx="562.7" cy="496.7" r="5.2" fill="#c5e2f3" opacity="0.88"/><circle cx="568.5" cy="501.9" r="3.6" fill="#c5e2f3" opacity="0.88"/><circle cx="573.7" cy="512.8" r="6.7" fill="#5fb2e1" opacity="0.88"/><circle cx="578.9" cy="507.0" r="3.9" fill="#c5e2f3" opacity="0.88"/><path d="M172.3,554.1V607.0M177.7,554.1V607.0M183.2,554.1V607.0M188.6,554.1V607.0M194.0,554.1V607.0M199.4,554.1V607.0M204.9,554.1V607.0M210.3,554.1V607.0M172.3,554.1H210.3M172.3,559.4H210.3M172.3,564.7H210.3M172.3,570.0H210.3M172.3,575.3H210.3M172.3,580.5H210.3M172.3,585.8H210.3M172.3,591.1H210.3M172.3,596.4H210.3M172.3,601.7H210.3M172.3,607.0H210.3" stroke="#e6e6e6" stroke-width="0.5" fill="none"/><path d="M172.3,554.1V607.0H210.3" stroke="#b9b9b9" stroke-width="0.6" fill="none"/><path d="M221.3,554.1V607.0M226.7,554.1V607.0M232.2,554.1V607.0M237.6,554.1V607.0M243.1,554.1V607.0M248.5,554.1V607.0M254.0,554.1V607.0M259.4,554.1V607.0M221.3,554.1H259.4M221.3,559.4H259.4M221.3,564.7H259.4M221.3,570.0H259.4M221.3,575.3H259.4M221.3,580.5H259.4M221.3,585.8H259.4M221.3,591.1H259.4M221.3,596.4H259.4M221.3,601.7H259.4M221.3,607.0H259.4" stroke="#e6e6e6" stroke-width="0.5" fill="none"/><path d="M221.3,554.1V607.0H259.4" stroke="#b9b9b9" stroke-width="0.6" fill="none"/><rect x="205.2" y="554.1" width="5.1" height="5.3" fill="#a9d4ee" /><rect x="221.3" y="554.1" width="16.1" height="5.3" fill="#8cc6e8" /><rect x="213.0" y="556.1" width="5.0" height="1.0" fill="#cfcfcf" /><rect x="200.0" y="559.4" width="10.3" height="5.3" fill="#8cc6e8" /><rect x="221.3" y="559.4" width="21.3" height="5.3" fill="#a9d4ee" /><rect x="213.0" y="561.4" width="5.0" height="1.0" fill="#cfcfcf" /><rect x="194.2" y="564.7" width="16.1" height="5.3" fill="#a9d4ee" /><rect x="221.3" y="564.7" width="38.1" height="5.3" fill="#8cc6e8" /><rect x="213.0" y="566.7" width="5.0" height="1.0" fill="#cfcfcf" /><rect x="189.0" y="570.0" width="21.3" height="5.3" fill="#8cc6e8" /><rect x="221.3" y="570.0" width="27.1" height="5.3" fill="#a9d4ee" /><rect x="213.0" y="572.0" width="5.0" height="1.0" fill="#cfcfcf" /><rect x="178.1" y="575.3" width="32.2" height="5.3" fill="#a9d4ee" /><rect x="221.3" y="575.3" width="38.1" height="5.3" fill="#8cc6e8" /><rect x="213.0" y="577.3" width="5.0" height="1.0" fill="#cfcfcf" /><rect x="172.3" y="580.5" width="38.0" height="5.3" fill="#8cc6e8" /><rect x="221.3" y="580.5" width="32.5" height="5.3" fill="#a9d4ee" /><rect x="213.0" y="582.5" width="5.0" height="1.0" fill="#cfcfcf" /><rect x="189.0" y="585.8" width="21.3" height="5.3" fill="#a9d4ee" /><rect x="221.3" y="585.8" width="21.3" height="5.3" fill="#8cc6e8" /><rect x="213.0" y="587.8" width="5.0" height="1.0" fill="#cfcfcf" /><rect x="178.1" y="591.1" width="32.2" height="5.3" fill="#8cc6e8" /><rect x="221.3" y="591.1" width="10.6" height="5.3" fill="#a9d4ee" /><rect x="213.0" y="593.1" width="5.0" height="1.0" fill="#cfcfcf" /><rect x="189.0" y="596.4" width="21.3" height="5.3" fill="#a9d4ee" /><rect x="221.3" y="596.4" width="16.1" height="5.3" fill="#8cc6e8" /><rect x="213.0" y="598.4" width="5.0" height="1.0" fill="#cfcfcf" /><rect x="194.2" y="601.7" width="16.1" height="5.3" fill="#8cc6e8" /><rect x="221.3" y="601.7" width="10.6" height="5.3" fill="#a9d4ee" /><rect x="213.0" y="603.7" width="5.0" height="1.0" fill="#cfcfcf" /><path d="M322.3,582.8L322.30,555.60A27.2,27.2 0 0 1 349.50,582.80Z" fill="#c5e2f3"/><path d="M322.3,582.8L349.50,582.80A27.2,27.2 0 0 1 329.34,609.07Z" fill="#7ebfe5"/><path d="M322.3,582.8L329.34,609.07A27.2,27.2 0 0 1 306.70,605.08Z" fill="#8cc6e8"/><path d="M322.3,582.8L306.70,605.08A27.2,27.2 0 0 1 296.74,573.50Z" fill="#62b4e2"/><path d="M322.3,582.8L296.74,573.50A27.2,27.2 0 0 1 310.80,558.15Z" fill="#7ebfe5"/><path d="M322.3,582.8L310.80,558.15A27.2,27.2 0 0 1 322.30,555.60Z" fill="#a9d4ee"/><path d="M389.8,554.1V606.4M476.3,554.1V606.4M389.8,554.1H476.3M389.8,559.3H476.3M389.8,564.6H476.3M389.8,569.8H476.3M389.8,575.0H476.3M389.8,580.2H476.3M389.8,585.5H476.3M389.8,590.7H476.3M389.8,595.9H476.3M389.8,601.2H476.3M389.8,606.4H476.3" stroke="#e6e6e6" stroke-width="0.5" fill="none"/><path d="M389.8,554.1V606.4H476.3" stroke="#b9b9b9" stroke-width="0.6" fill="none"/><rect x="392.4" y="559.0" width="4.6" height="47.4" fill="#5aaee0" /><rect x="403.4" y="564.2" width="4.6" height="42.2" fill="#5aaee0" /><rect x="414.1" y="569.6" width="4.6" height="36.8" fill="#5aaee0" /><rect x="425.1" y="559.0" width="4.6" height="47.4" fill="#5aaee0" /><rect x="435.9" y="574.8" width="4.6" height="31.6" fill="#5aaee0" /><rect x="446.9" y="569.6" width="4.6" height="36.8" fill="#5aaee0" /><rect x="457.6" y="569.6" width="4.6" height="36.8" fill="#5aaee0" /><rect x="468.3" y="574.8" width="4.6" height="31.6" fill="#5aaee0" /><polyline points="391,575 400,585 409,572 418,570 428,590 437,585 446,590 455,596 465,585 475,585" fill="none" stroke="#aaa" stroke-width="0.4"/><polygon points="539.5,558.0 563.8,575.6 554.5,604.1 524.5,604.1 515.2,575.6" fill="none" stroke="#aaa" stroke-width="0.5"/><polygon points="539.5,561.5 560.4,576.7 552.4,601.3 526.6,601.3 518.6,576.7" fill="#c5e2f3"/><polygon points="539.5,564.0 558.0,577.5 551.0,599.3 528.0,599.3 521.0,577.5" fill="#8cc6e8"/><polygon points="539.5,567.0 555.2,578.4 549.2,596.8 529.8,596.8 523.8,578.4" fill="#62b4e2"/><polygon points="539.5,579.5 543.3,582.3 541.9,586.7 537.1,586.7 535.7,582.3" fill="none" stroke="#3d7fae" stroke-width="0.35" opacity="0.7"/><polygon points="539.5,575.5 547.1,581.0 544.2,590.0 534.8,590.0 531.9,581.0" fill="none" stroke="#3d7fae" stroke-width="0.35" opacity="0.7"/><polygon points="539.5,571.5 550.9,579.8 546.6,593.2 532.4,593.2 528.1,579.8" fill="none" stroke="#3d7fae" stroke-width="0.35" opacity="0.7"/><polygon points="539.5,567.5 554.7,578.6 548.9,596.4 530.1,596.4 524.3,578.6" fill="none" stroke="#3d7fae" stroke-width="0.35" opacity="0.7"/><path d="M539.5,583.5L539.5,561.5" stroke="#3d7fae" stroke-width="0.35" opacity="0.7"/><path d="M539.5,583.5L560.4,576.7" stroke="#3d7fae" stroke-width="0.35" opacity="0.7"/><path d="M539.5,583.5L552.4,601.3" stroke="#3d7fae" stroke-width="0.35" opacity="0.7"/><path d="M539.5,583.5L526.6,601.3" stroke="#3d7fae" stroke-width="0.35" opacity="0.7"/><path d="M539.5,583.5L518.6,576.7" stroke="#3d7fae" stroke-width="0.35" opacity="0.7"/><rect x="566.0" y="596.0" width="9.0" height="1.5" fill="#c5e2f3" /><rect x="566.0" y="598.8" width="9.0" height="1.5" fill="#5aaee0" /><rect x="566.0" y="601.6" width="9.0" height="1.5" fill="#8cc6e8" /><circle cx="214.5" cy="651" r="27.6" fill="none" stroke="#c9c9c9" stroke-width="0.5"/><circle cx="214.5" cy="651" r="22" fill="none" stroke="#c9c9c9" stroke-width="0.5"/><circle cx="214.5" cy="651" r="16" fill="none" stroke="#c9c9c9" stroke-width="0.5"/><circle cx="214.5" cy="651" r="10" fill="none" stroke="#c9c9c9" stroke-width="0.5"/><path d="M214.5,651L214.5,623.4" stroke="#cfcfcf" stroke-width="0.4"/><path d="M214.5,651L240.7,642.5" stroke="#cfcfcf" stroke-width="0.4"/><path d="M214.5,651L230.7,673.3" stroke="#cfcfcf" stroke-width="0.4"/><path d="M214.5,651L198.3,673.3" stroke="#cfcfcf" stroke-width="0.4"/><path d="M214.5,651L188.3,642.5" stroke="#cfcfcf" stroke-width="0.4"/><polygon points="214.5,627.0 239.2,643.0 227.4,668.8 199.8,671.2 192.6,643.9" fill="none" stroke="#7ec0e6" stroke-width="0.7"/><polygon points="214.5,631.0 225.9,647.3 225.1,665.6 206.9,661.5 198.3,645.7" fill="none" stroke="#3a9ad6" stroke-width="0.9"/><polygon points="214.5,635.0 231.6,645.4 222.7,662.3 202.7,667.2 201.2,646.7" fill="none" stroke="#62b4e2" stroke-width="0.7"/><path d="M280.8,622.5V681.0M368.4,622.5V681.0M280.8,622.5H368.4M280.8,632.2H368.4M280.8,642.0H368.4M280.8,651.8H368.4M280.8,661.5H368.4M280.8,671.2H368.4M280.8,681.0H368.4" stroke="#e6e6e6" stroke-width="0.5" fill="none"/><path d="M280.8,622.5V681.0H368.4" stroke="#b9b9b9" stroke-width="0.6" fill="none"/><rect x="292.6" y="638.4" width="5.2" height="42.6" fill="#8cc6e8" /><rect x="303.3" y="643.8" width="4.7" height="37.2" fill="#8cc6e8" /><rect x="306.8" y="636.0" width="5.9" height="45.0" fill="#c5e2f3" /><rect x="313.9" y="648.5" width="5.2" height="32.5" fill="#8cc6e8" /><rect x="324.6" y="633.2" width="5.4" height="47.8" fill="#8cc6e8" /><rect x="347.1" y="628.4" width="4.7" height="52.6" fill="#8cc6e8" /><rect x="351.8" y="642.6" width="5.2" height="38.4" fill="#c5e2f3" /><rect x="357.7" y="629.6" width="4.7" height="51.4" fill="#8cc6e8" /><rect x="362.5" y="637.9" width="5.9" height="43.1" fill="#c5e2f3" /><rect x="283.1" y="649.7" width="5.9" height="31.3" fill="#c5e2f3" /><path d="M388.0,623.0V681.0M394.3,623.0V681.0M400.5,623.0V681.0M406.8,623.0V681.0M413.1,623.0V681.0M419.3,623.0V681.0M425.6,623.0V681.0M431.8,623.0V681.0M438.1,623.0V681.0M444.4,623.0V681.0M450.6,623.0V681.0M456.9,623.0V681.0M463.2,623.0V681.0M469.4,623.0V681.0M475.7,623.0V681.0M388.0,623.0H475.7M388.0,681.0H475.7" stroke="#e6e6e6" stroke-width="0.5" fill="none"/><path d="M388.0,623.0V681.0H475.7" stroke="#b9b9b9" stroke-width="0.6" fill="none"/><rect x="389.7" y="626.0" width="21.3" height="3.3" fill="#8cc6e8" /><rect x="411.0" y="626.0" width="48.5" height="3.3" fill="#c5e2f3" /><rect x="389.7" y="631.5" width="48.5" height="3.3" fill="#8cc6e8" /><rect x="438.2" y="631.5" width="27.2" height="3.3" fill="#c5e2f3" /><rect x="389.7" y="637.0" width="54.5" height="3.3" fill="#8cc6e8" /><rect x="444.2" y="637.0" width="26.0" height="3.3" fill="#c5e2f3" /><rect x="389.7" y="642.5" width="15.4" height="3.3" fill="#8cc6e8" /><rect x="405.1" y="642.5" width="49.7" height="3.3" fill="#c5e2f3" /><rect x="389.7" y="648.0" width="26.0" height="3.3" fill="#8cc6e8" /><rect x="415.7" y="648.0" width="18.9" height="3.3" fill="#c5e2f3" /><path d="M499.8,622.5V677.0M505.1,622.5V677.0M510.3,622.5V677.0M515.6,622.5V677.0M520.9,622.5V677.0M526.1,622.5V677.0M531.4,622.5V677.0M536.6,622.5V677.0M541.9,622.5V677.0M547.2,622.5V677.0M552.4,622.5V677.0M557.7,622.5V677.0M563.0,622.5V677.0M568.2,622.5V677.0M573.5,622.5V677.0M578.7,622.5V677.0M584.0,622.5V677.0M499.8,622.5H584.0M499.8,628.0H584.0M499.8,633.4H584.0M499.8,638.9H584.0M499.8,644.3H584.0M499.8,649.8H584.0M499.8,655.2H584.0M499.8,660.6H584.0M499.8,666.1H584.0M499.8,671.5H584.0M499.8,677.0H584.0" stroke="#e6e6e6" stroke-width="0.5" fill="none"/><path d="M499.8,622.5V677.0H584.0" stroke="#b9b9b9" stroke-width="0.6" fill="none"/><rect x="501.0" y="643.8" width="4.2" height="33.2" fill="#7ebfe5" opacity="0.9"/><rect x="511.6" y="643.8" width="4.2" height="33.2" fill="#c5e2f3" opacity="0.9"/><rect x="517.6" y="633.2" width="4.2" height="43.8" fill="#7ebfe5" opacity="0.9"/><rect x="522.3" y="643.8" width="4.2" height="33.2" fill="#c5e2f3" opacity="0.9"/><rect x="533.0" y="643.8" width="4.2" height="33.2" fill="#7ebfe5" opacity="0.9"/><rect x="538.9" y="637.9" width="4.2" height="39.1" fill="#c5e2f3" opacity="0.9"/><rect x="543.6" y="633.2" width="4.2" height="43.8" fill="#7ebfe5" opacity="0.9"/><rect x="549.5" y="637.9" width="4.2" height="39.1" fill="#c5e2f3" opacity="0.9"/><rect x="555.5" y="659.2" width="4.2" height="17.8" fill="#7ebfe5" opacity="0.9"/><rect x="560.2" y="637.9" width="4.2" height="39.1" fill="#c5e2f3" opacity="0.9"/><rect x="566.1" y="637.9" width="4.2" height="39.1" fill="#7ebfe5" opacity="0.9"/><rect x="572.0" y="643.8" width="4.2" height="33.2" fill="#c5e2f3" opacity="0.9"/><rect x="576.8" y="637.9" width="4.2" height="39.1" fill="#7ebfe5" opacity="0.9"/><polyline points="500.5,651 506,641 512,637 519,643 525,637 531,633 537,635 543,631 549,633 556,639 562,647 568,652 575,644 581,636" fill="none" stroke="#4ea7dc" stroke-width="1"/></g></svg>
<div class="abs" style="left:223.5px;top:650px;width:305.5px;height:55px;background:#3671a4;z-index:3"></div>
<div class="abs" style="left:224px;top:872px;width:305px;height:55px;background:#a8282c;"></div>
<svg width="1858" height="1046" style="position:absolute;left:0;top:0;z-index:3"><g transform="translate(690 435) scale(0.11947)">
<rect x="42" y="80" width="1186" height="715" fill="#383d43"/>
<rect x="70" y="108" width="1130" height="657" fill="#5b5d60"/>
<polygon points="420,108 690,108 410,765 140,765" fill="#ffffff" opacity="0.07"/>
<polygon points="700,108 800,108 520,765 420,765" fill="#ffffff" opacity="0.05"/>
<rect x="245" y="108" width="955" height="42" fill="#4b4d50"/>
<rect x="70" y="275" width="175" height="490" fill="#4f5154"/>
<rect x="70" y="108" width="175" height="167" fill="#6aaee6"/>
<g fill="#6aaee6"><rect x="175" y="325" width="70" height="25"/><rect x="175" y="378" width="70" height="24"/><rect x="175" y="432" width="70" height="24"/><rect x="175" y="487" width="70" height="23"/></g>
<g fill="#cfd1d3"><rect x="405" y="218" width="320" height="24"/><rect x="318" y="278" width="407" height="22"/><rect x="405" y="325" width="320" height="25"/><rect x="318" y="378" width="407" height="22"/><rect x="405" y="432" width="320" height="24"/><rect x="318" y="487" width="182" height="23"/></g>
<rect x="245" y="545" width="955" height="220" fill="#555759"/>
<rect x="775" y="150" width="425" height="395" fill="#6aaee6"/>
<rect x="840" y="205" width="300" height="120" fill="#5c5f62"/>
<g fill="#e6eef8"><rect x="840" y="368" width="300" height="22"/><rect x="840" y="420" width="300" height="22"/><rect x="840" y="472" width="300" height="22"/></g>
<g><rect x="312" y="655" width="73" height="25" fill="#5ba4da"/><rect x="415" y="655" width="70" height="25" fill="#6cb5e6"/><rect x="518" y="655" width="70" height="25" fill="#e6eef8"/><rect x="620" y="655" width="70" height="25" fill="#4a4c4e"/>
<rect x="312" y="712" width="73" height="25" fill="#5ba4da"/><rect x="415" y="712" width="70" height="25" fill="#6cb5e6"/><rect x="518" y="712" width="70" height="25" fill="#e6eef8"/><rect x="620" y="712" width="70" height="25" fill="#4a4c4e"/></g>
<g fill="#c9cacc"><rect x="925" y="605" width="70" height="20"/><rect x="925" y="658" width="70" height="22"/><rect x="925" y="712" width="70" height="23"/></g>
<rect x="555" y="795" width="163" height="65" fill="#a7afba"/>
<rect x="555" y="860" width="163" height="65" fill="#c8d7ea"/>
<rect x="488" y="925" width="294" height="20" fill="#aebdd0"/>
<rect x="298" y="945" width="692" height="40" fill="#383d43"/>
<polygon points="597,170 325,640 868,640" fill="#a72b2b"/>
<rect x="555" y="350" width="50" height="155" rx="8" fill="#fff"/>
<circle cx="580" cy="527" r="26" fill="#fff"/>
<path d="M1000,565 Q1080,530 1160,525 L1240,578 L1320,525 Q1400,530 1470,565 L1565,870 L1460,905 L1450,1000 L1030,1000 L1015,905 L910,870 Z" fill="#d3dedb"/>
<path d="M1240,578 L1320,525 Q1400,530 1470,565 L1565,870 L1460,905 L1450,1000 L1240,1000 Z" fill="#e4eae8"/>
<path d="M1175,470 L1305,470 L1305,540 L1240,580 L1175,540 Z" fill="#e2a384"/>
<path d="M1150,520 L1240,580 L1330,520 L1350,545 L1240,610 L1130,545 Z" fill="#f3f6f5"/>
<polygon points="1218,580 1258,580 1250,612 1278,905 1240,925 1202,905 1228,612" fill="#2e3835"/>
<path d="M910,870 L1015,905 L1060,955 L1240,935 L1440,955 L1470,900 L1565,870 Q1590,940 1565,995 L1300,1000 L930,1000 Q890,950 910,870 Z" fill="#e8a783"/>
<path d="M1240,935 L1440,955 L1470,900 L1565,870 Q1590,940 1565,995 L1240,1000 Z" fill="#efb793"/>
<path d="M1125,330 C1125,215 1180,195 1240,195 C1300,195 1355,215 1355,330" fill="none" stroke="#5a4a55" stroke-width="14"/>
<path d="M1150,285 C1150,420 1180,490 1240,490 C1300,490 1335,420 1335,285 Z" fill="#eab596"/>
<path d="M1240,285 L1335,285 C1335,420 1300,490 1240,490 Z" fill="#f3c6a9"/>
<path d="M1140,310 C1138,238 1188,212 1240,212 C1297,212 1347,240 1345,310 C1300,292 1185,292 1140,310 Z" fill="#8c4a2c"/>
<rect x="1105" y="300" width="45" height="125" rx="20" fill="#2b2b2b"/>
<rect x="1328" y="300" width="45" height="125" rx="20" fill="#2b2b2b"/>
<path d="M1128,420 Q1140,480 1235,480" fill="none" stroke="#444" stroke-width="9"/>
<ellipse cx="1238" cy="481" rx="16" ry="9" fill="#222"/>
<path d="M1205,445 Q1225,462 1250,445 Z" fill="#fff"/>
</g>
<g transform="translate(1060 450) scale(0.10226)">
<g transform="translate(0 0)">
<path d="M100,865 C110,790 160,760 290,700 L435,760 L585,700 C710,760 760,790 770,865 Z" fill="#3d464b"/>
<path d="M340,620 L530,620 L530,700 L435,740 L340,700 Z" fill="#e8c290"/>
<path d="M290,690 L340,655 L435,740 L530,655 L585,690 L520,790 L435,745 L350,790 Z" fill="#e3e3e3"/>
<polygon points="415,745 455,745 472,840 435,862 398,840" fill="#2a3236"/>
<circle cx="437" cy="842" r="10" fill="#dcd67e"/>
<path d="M268,430 C268,290 340,222 437,222 C535,222 606,290 606,430 L570,520 L300,520 Z" fill="#3d464b"/>
<path d="M300,440 C300,370 330,335 372,335 C410,372 480,385 528,368 C560,385 572,420 572,460 C572,565 520,650 437,650 C352,650 300,565 300,440 Z" fill="#f5d5a8"/>
<path d="M262,420 C262,290 340,215 437,215 C535,215 612,290 612,420" fill="none" stroke="#333" stroke-width="34"/>
<rect x="250" y="360" width="58" height="152" rx="26" fill="#333"/>
<rect x="567" y="360" width="58" height="152" rx="26" fill="#333"/>
<path d="M292,505 C300,575 340,610 400,612" fill="none" stroke="#222" stroke-width="8"/>
<rect x="390" y="596" width="70" height="32" rx="4" fill="#222"/>
</g>
<g transform="translate(995 0)">
<path d="M100,865 C110,790 160,760 290,700 L435,760 L585,700 C710,760 760,790 770,865 Z" fill="#3d464b"/>
<path d="M340,620 L530,620 L530,700 L435,740 L340,700 Z" fill="#e8c290"/>
<path d="M290,690 L340,655 L435,740 L530,655 L585,690 L520,790 L435,745 L350,790 Z" fill="#e3e3e3"/>
<polygon points="415,745 455,745 472,840 435,862 398,840" fill="#2a3236"/>
<circle cx="437" cy="842" r="10" fill="#dcd67e"/>
<path d="M268,430 C268,290 340,222 437,222 C535,222 606,290 606,430 L570,520 L300,520 Z" fill="#3d464b"/>
<path d="M300,440 C300,370 330,335 372,335 C410,372 480,385 528,368 C560,385 572,420 572,460 C572,565 520,650 437,650 C352,650 300,565 300,440 Z" fill="#f5d5a8"/>
<path d="M262,420 C262,290 340,215 437,215 C535,215 612,290 612,420" fill="none" stroke="#333" stroke-width="34"/>
<rect x="250" y="360" width="58" height="152" rx="26" fill="#333"/>
<rect x="567" y="360" width="58" height="152" rx="26" fill="#333"/>
<path d="M292,505 C300,575 340,610 400,612" fill="none" stroke="#222" stroke-width="8"/>
<rect x="390" y="596" width="70" height="32" rx="4" fill="#222"/>
</g>
<path d="M485,975 C490,860 530,820 730,760 L925,830 L1120,760 C1330,820 1360,860 1365,975 Z" fill="#b1cb41"/>
<path d="M790,640 L1060,640 L1060,760 L925,830 L790,760 Z" fill="#efcf9f"/>
<path d="M865,900 L925,800 L985,900 L955,930 L895,930 Z" fill="#9fb83a"/>
<path d="M735,690 L795,680 L925,800 L1055,680 L1115,690 L1125,765 L985,900 L925,800 L865,900 L725,765 Z" fill="#dfe88f"/>
<circle cx="925" cy="935" r="13" fill="#eef0b0"/>
<path d="M706,440 C706,260 800,150 925,150 C1050,150 1144,260 1144,440 L1100,560 L750,560 Z" fill="#3d464b"/>
<path d="M750,460 C750,350 790,285 842,278 C890,325 985,335 1045,318 C1090,345 1100,400 1100,470 C1100,605 1025,720 925,720 C825,720 750,605 750,460 Z" fill="#f5d5a8"/>
<path d="M712,430 C712,250 800,140 925,140 C1050,140 1138,250 1138,430" fill="none" stroke="#333" stroke-width="44"/>
<rect x="686" y="300" width="78" height="215" rx="36" fill="#333"/>
<rect x="1088" y="300" width="78" height="215" rx="36" fill="#333"/>
<path d="M728,500 C740,600 800,640 872,642" fill="none" stroke="#222" stroke-width="10"/>
<rect x="866" y="618" width="82" height="44" rx="5" fill="#222"/>
</g>
<g transform="translate(1415 395) scale(0.14347)">
<rect x="68" y="48" width="620" height="452" fill="#2f353b"/>
<rect x="98" y="75" width="564" height="403" fill="#5c5d5f"/>
<polygon points="270,75 500,75 350,478 120,478" fill="#fff" opacity="0.07"/>
<g fill="#e6eef8"><rect x="125" y="105" width="110" height="45"/><rect x="125" y="193" width="110" height="45"/><rect x="125" y="280" width="110" height="45"/></g>
<g fill="#6aaee6"><rect x="125" y="150" width="245" height="28"/><rect x="125" y="238" width="245" height="27"/><rect x="125" y="325" width="245" height="25"/></g>
<g fill="#c9cacc"><rect x="400" y="108" width="212" height="14"/><rect x="400" y="135" width="212" height="15"/><rect x="400" y="195" width="212" height="15"/><rect x="400" y="222" width="212" height="14"/><rect x="400" y="280" width="212" height="15"/><rect x="400" y="305" width="212" height="15"/></g>
<rect x="98" y="400" width="564" height="78" fill="#5a9fd4"/>
<rect x="270" y="400" width="392" height="78" fill="#6aaee6"/>
<rect x="222" y="500" width="103" height="70" fill="#a7afba"/>
<rect x="222" y="570" width="103" height="80" fill="#c8d7ea"/>
<rect x="178" y="650" width="190" height="25" fill="#a9b8cc"/>
<rect x="78" y="678" width="392" height="32" fill="#2f353b"/>
<rect x="500" y="345" width="620" height="455" fill="#2f353b"/>
<rect x="528" y="372" width="567" height="400" fill="#606163"/>
<rect x="528" y="372" width="70" height="153" fill="#505254"/>
<rect x="905" y="372" width="190" height="156" fill="#6aaee6"/>
<rect x="932" y="570" width="136" height="152" fill="#545557"/>
<polygon points="700,372 900,372 760,772 560,772" fill="#fff" opacity="0.06"/>
<g fill="#c9cacc"><rect x="558" y="575" width="122" height="23"/><rect x="558" y="638" width="347" height="22"/><rect x="558" y="695" width="347" height="27"/></g>
<rect x="680" y="410" width="260" height="230" fill="#e6eef8"/>
<g fill="#6d6560"><rect x="765" y="458" width="93" height="12"/><rect x="728" y="490" width="164" height="12"/><rect x="728" y="522" width="164" height="13"/></g>
<rect x="872" y="800" width="98" height="70" fill="#a7afba"/>
<rect x="872" y="870" width="98" height="75" fill="#c8d7ea"/>
<rect x="825" y="945" width="190" height="23" fill="#a9b8cc"/>
<rect x="705" y="968" width="433" height="34" fill="#2f353b"/>
<path d="M948,225 L948,205 Q948,132 870,132 L815,132" fill="none" stroke="#6aaee6" stroke-width="52"/>
<polygon points="760,130 822,72 822,190" fill="#6aaee6"/>
<rect x="922" y="243" width="53" height="19" fill="#6aaee6"/><rect x="922" y="280" width="53" height="20" fill="#6aaee6"/>
<rect x="268" y="790" width="54" height="18" fill="#e08a4f"/><rect x="268" y="828" width="54" height="20" fill="#e08a4f"/>
<path d="M295,862 L295,880 Q295,958 375,958 L435,958" fill="none" stroke="#e08a4f" stroke-width="52"/>
<polygon points="490,958 428,900 428,1016" fill="#e08a4f"/>
</g>
<g transform="translate(1310 55) scale(0.11949)">
<defs><clipPath id="globe"><circle cx="795" cy="537" r="422"/></clipPath></defs>
<g clip-path="url(#globe)">
<rect x="360" y="100" width="880" height="880" fill="#e3ebeb"/>
<rect x="500" y="110" width="245" height="105" fill="#141414"/>
<rect x="500" y="215" width="245" height="92" fill="#c8552e"/>
<rect x="500" y="307" width="245" height="103" fill="#f0be3c"/>
<rect x="745" y="110" width="155" height="300" fill="#4ba7b9"/>
<rect x="900" y="110" width="155" height="300" fill="#eef2f1"/>
<rect x="1055" y="110" width="200" height="300" fill="#d98550"/>
<rect x="500" y="410" width="505" height="280" fill="#3a6db5"/>
<path d="M500,410 L1005,690 M1005,410 L500,690" stroke="#fff" stroke-width="48"/>
<path d="M500,410 L1005,690 M1005,410 L500,690" stroke="#cf5f36" stroke-width="20"/>
<path d="M755,410 V690 M500,550 H1005" stroke="#fff" stroke-width="80"/>
<path d="M755,410 V690 M500,550 H1005" stroke="#cf5f36" stroke-width="48"/>
<rect x="1005" y="410" width="250" height="50" fill="#d06a3a"/>
<rect x="1005" y="460" width="250" height="175" fill="#f2cf4f"/>
<rect x="1005" y="635" width="250" height="55" fill="#d06a3a"/>
<circle cx="965" cy="830" r="88" fill="#c85a30"/>
</g>
<path d="M95,830 L240,500 L335,455 L455,520 L565,455 L665,500 L815,830 L705,880 L680,900 L230,900 L200,880 Z" fill="#cfdcd9"/>
<path d="M455,520 L565,455 L665,500 L815,830 L705,880 L680,900 L455,900 Z" fill="#eef2f1"/>
<polygon points="650,745 700,850 630,850" fill="#4ba7b9"/>
<rect x="630" y="835" width="90" height="45" fill="#f0be3c"/>
<path d="M405,400 L525,400 L525,480 L455,520 L405,480 Z" fill="#e29f7e"/>
<path d="M335,455 L405,440 L455,520 L525,440 L565,455 L455,545 Z" fill="#f7f9f8"/>
<polygon points="432,520 478,520 466,548 497,890 455,905 413,890 442,548" fill="#323c38"/>
<path d="M95,830 L200,880 L290,900 L640,900 L705,880 L815,830 Q840,900 805,968 L120,968 Q75,900 95,830 Z" fill="#e8a783"/>
<path d="M455,900 L640,900 L705,880 L815,830 Q840,900 805,968 L455,968 Z" fill="#f0bb98"/>
<path d="M322,250 C322,150 380,100 452,100 C525,100 583,150 583,250" fill="none" stroke="#5d4a55" stroke-width="16"/>
<path d="M355,215 C355,345 390,420 455,420 C520,420 550,345 550,215 Z" fill="#eab596"/>
<path d="M455,215 L550,215 C550,345 520,420 455,420 Z" fill="#f3c6a9"/>
<path d="M342,245 C338,160 390,118 452,118 C520,118 566,165 566,245 C520,222 395,222 342,245 Z" fill="#8c4a2c"/>
<rect x="305" y="212" width="52" height="140" rx="24" fill="#2b2b2b"/>
<rect x="550" y="212" width="52" height="140" rx="24" fill="#2b2b2b"/>
<path d="M330,345 Q350,405 440,406" fill="none" stroke="#333" stroke-width="10"/>
<ellipse cx="452" cy="408" rx="18" ry="11" fill="#222"/>
<path d="M415,372 Q445,398 478,372 Z" fill="#fff"/>
</g>
<g transform="translate(920 845) scale(0.14823)">
<rect x="655" y="965" width="685" height="35" fill="#8a3f2c"/>
<rect x="1215" y="430" width="45" height="520" fill="#7d7a78"/>
<rect x="1175" y="940" width="135" height="25" fill="#7d7a78"/>
<path d="M1195,165 L1232,165 L1222,790 L1165,790 Z" fill="#e4e4e4"/>
<path d="M1210,165 L1232,165 L1222,790 L1190,790 Z" fill="#d0d0d0"/>
<polygon points="885,912 1110,888 1112,942 888,955" fill="#dadada"/>
<polygon points="905,900 1085,880 1088,892 908,912" fill="#9c9c9c"/>
<path d="M45,1000 C110,720 240,430 400,378 L535,450 L620,720 L530,760 L430,830 L362,1000 Z" fill="#4fa5b8"/>
<path d="M440,820 L560,760 L625,780 C760,758 900,730 990,712 C1060,708 1125,732 1140,748 L1050,768 L1005,792 C1045,828 1080,860 1085,882 C1040,872 995,852 962,842 C820,862 640,905 520,905 Z" fill="#efbc98"/>
<path d="M310,470 C330,405 405,388 465,420 C525,480 585,620 615,730 L548,762 C480,700 400,610 330,530 Z" fill="#72b9dd"/>
<path d="M530,520 C560,580 595,660 615,730 L560,752 C555,680 540,600 530,520 Z" fill="#4f97c0"/>
<path d="M400,380 L445,315 L565,345 L535,452 Z" fill="#e3a27c"/>
<path d="M470,300 L600,165 L682,182 C690,245 672,268 662,292 C672,322 640,342 600,352 L560,352 Z" fill="#f0c09f"/>
<path d="M425,190 C420,85 490,40 560,40 C640,40 692,90 690,155 L600,180 C560,220 520,280 470,322 L432,322 C425,280 425,230 425,190 Z" fill="#3a0c0a"/>
<path d="M555,352 C600,360 645,365 652,402 C620,425 575,405 555,352 Z" fill="#3a0c0a"/>
<path d="M505,205 L640,62" stroke="#6e7f87" stroke-width="32" stroke-linecap="round"/>
<circle cx="535" cy="205" r="66" fill="#6e7f87"/>
<circle cx="535" cy="205" r="52" fill="#d5d9dc"/>
<path d="M598,208 L672,232" stroke="#333" stroke-width="7"/>
<path d="M655,225 L680,228 L675,272 L660,270 Z" fill="#b9d8ea"/>
<path d="M500,268 C500,330 530,352 590,356 L655,362" fill="none" stroke="#555" stroke-width="11"/>
<circle cx="662" cy="362" r="19" fill="#111"/>
</g>
<g fill="#3671a4" stroke="none">
<line x1="787" y1="629.6" x2="810" y2="675.4" stroke="#3671a4" stroke-width="7.7"/>
<line x1="835.2" y1="726" x2="868" y2="791" stroke="#3671a4" stroke-width="7.7"/>
<polygon points="876.8,804.7 877,783.7 872.3,788.4 865.8,792 858.7,793.4"/>
<line x1="1159" y1="629.6" x2="1136.3" y2="675.4" stroke="#3671a4" stroke-width="7.7"/>
<line x1="1111" y1="726" x2="1078" y2="791" stroke="#3671a4" stroke-width="7.7"/>
<polygon points="1069.5,804.7 1069.5,783.7 1074.4,788.4 1081,792.2 1087.9,793.4"/>
</g></svg>
<svg width="1858" height="1046" style="z-index:4">
<g fill="#3671a4">
<path d="M599.3,471.3 L623.5,471.3 L620.8,463.2 L643.6,476.1 L620.8,488.7 L623.5,480.8 L599.3,480.8 Z"/>
<path d="M926.2,476.1 L948.7,463.4 L946,471 L1003.2,471 L1000.8,463.4 L1023.3,476.1 L1000.8,488.6 L1003.2,480.8 L946,480.8 L948.7,488.6 Z"/>
<path d="M1288,476.1 L1310.8,463.4 L1307.8,471 L1352.2,471 L1349.3,463.4 L1372.4,476.1 L1349.3,488.6 L1352.2,480.8 L1307.8,480.8 L1310.8,488.6 Z"/>
<path d="M1328.5,211.9 L1390,233.6 L1364.7,233.6 L1364.7,254.3 L1291,254.3 L1291,233.6 L1266.8,233.6 Z"/>
<path d="M1292,305.2 L1366,305.2 L1366,325.7 L1390,325.7 L1328.5,347.6 L1266.8,325.7 L1292,325.7 Z"/>
<path d="M372,845.6 L372,747.4 L364,749.7 L376.3,727.2 L388.9,749.7 L380.9,747.4 L380.9,845.6 Z"/>
</g>

</svg>
<div id="t1" class="tx" style="left:203.6px;top:53.9px;font-size:35.23px;letter-spacing:5.41px;transform:scaleX(1.06);transform-origin:0 0;font-weight:700;color:#fff">全球資訊安全情報</div>
<div id="t2a" class="tx" style="left:236.9px;top:129.2px;font-size:28.67px;letter-spacing:2.11px;transform:scaleX(1.04);transform-origin:0 0;font-weight:400;color:#4a91c2">技服中心資安通報</div>
<div id="t2b" class="tx" style="left:539.0px;top:129.2px;font-size:28.67px;letter-spacing:2.24px;transform:scaleX(1.04);transform-origin:0 0;font-weight:400;color:#4a91c2">資安監控及工具</div>
<div id="t2c" class="tx" style="left:810.0px;top:128.3px;font-size:29.43px;letter-spacing:2.26px;transform:scaleX(1.04);transform-origin:0 0;font-weight:400;color:#4a91c2">安全智識庫</div>
<div id="t3" class="tx" style="left:206.6px;top:262.9px;font-size:35.05px;letter-spacing:5.36px;transform:scaleX(1.06);transform-origin:0 0;font-weight:700;color:#fff">資訊安全監控中心</div>
<div id="t4" class="tx" style="left:240.0px;top:663.4px;font-size:29.37px;letter-spacing:4.28px;transform:scaleX(1.04);transform-origin:0 0;font-weight:400;color:#fff">資安即時監控平台</div>
<div id="t5" class="tx" style="left:236.0px;top:885.2px;font-size:29.46px;letter-spacing:3.62px;transform:scaleX(1.04);transform-origin:0 0;font-weight:400;color:#fff">資安事件/系統事件</div>
<div id="t6" class="tx" style="left:712.0px;top:377.9px;font-size:24.68px;letter-spacing:3.11px;transform:scaleX(1.06);transform-origin:0 0;font-weight:700;color:#3a72a6">發生資安事件</div>
<div id="t7" class="tx" style="left:675.1px;top:573.9px;font-size:25.58px;letter-spacing:2.56px;transform:scaleX(1.04);transform-origin:0 0;font-weight:400;color:#555">一線資安監控人員</div>
<div id="t8" class="tx" style="left:1097.0px;top:378.6px;font-size:25.81px;letter-spacing:1.96px;transform:scaleX(1.06);transform-origin:0 0;font-weight:700;color:#3a72a6">通知二線</div>
<div id="t9" class="tx" style="left:1048.0px;top:411.6px;font-size:27.45px;letter-spacing:0.75px;transform:scaleX(1.06);transform-origin:0 0;font-weight:700;color:#3a72a6">管理人員/工程師</div>
<div id="t10" class="tx" style="left:1069.0px;top:572.8px;font-size:25.98px;letter-spacing:3.00px;transform:scaleX(1.04);transform-origin:0 0;font-weight:400;color:#555">二線資安顧問</div>
<div id="t11" class="tx" style="left:1400.1px;top:573.8px;font-size:25.13px;letter-spacing:4.11px;transform:scaleX(1.04);transform-origin:0 0;font-weight:400;color:#555">三線資訊安全部</div>
<div id="t12" class="tx" style="left:1186.0px;top:87.1px;font-size:26.69px;letter-spacing:2.04px;transform:scaleX(1.04);transform-origin:0 0;font-weight:400;color:#555">原廠資訊</div>
<div id="t13" class="tx" style="left:1186.0px;top:122.8px;font-size:25.07px;letter-spacing:4.77px;transform:scaleX(1.04);transform-origin:0 0;font-weight:400;color:#555">安全顧問</div>
<div id="t14" class="tx" style="left:1162.0px;top:268.7px;font-size:25.10px;letter-spacing:3.86px;transform:scaleX(1.06);transform-origin:0 0;font-weight:700;color:#3a72a6">提供最新的解決方案建議</div>
<div id="t15" class="tx" style="left:762.0px;top:687.3px;font-size:26.43px;letter-spacing:2.73px;transform:scaleX(1.04);transform-origin:0 0;font-weight:400;color:#3a72a6">事件通報</div>
<div id="t16" class="tx" style="left:1024.0px;top:689.1px;font-size:25.68px;letter-spacing:2.57px;transform:scaleX(1.04);transform-origin:0 0;font-weight:400;color:#3a72a6">提供解決方案</div>
<div id="t17" class="tx" style="left:792.0px;top:895.8px;font-size:27.40px;letter-spacing:1.90px;transform:scaleX(1.04);transform-origin:0 0;font-weight:400;color:#555">客戶端</div>
<div id="t18" class="tx" style="left:776.2px;top:931.5px;font-size:25.84px;letter-spacing:2.77px;transform:scaleX(1.04);transform-origin:0 0;font-weight:400;color:#555">資安人員</div>
</div></body></html>
